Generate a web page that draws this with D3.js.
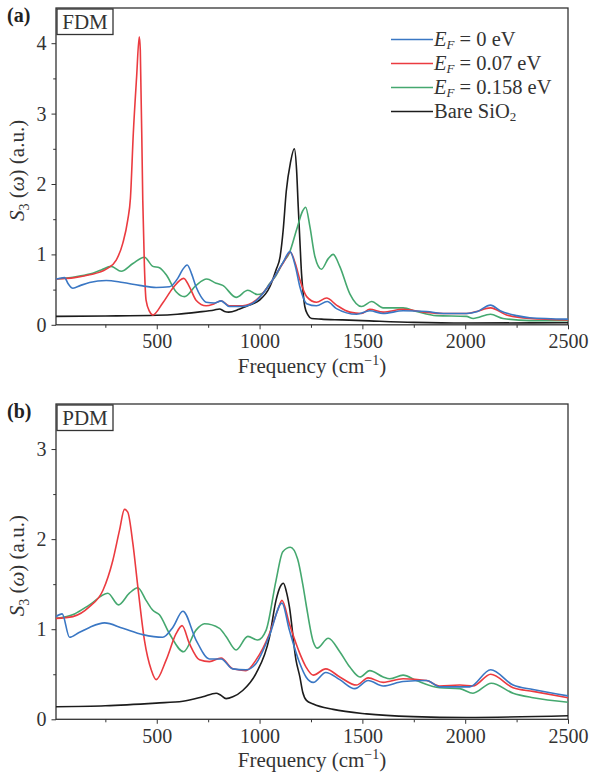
<!DOCTYPE html>
<html lang="en">
<head>
  <meta charset="UTF-8" />
  <title>S3 spectra</title>
  <script src="https://d3js.org/d3.v7.min.js"></script>
  <style>
    body { margin: 0; padding: 0; background: #fff; }
    svg { font-family: "Liberation Serif", "Times New Roman", serif; }
    .axis path, .axis line { stroke: #333; }
  </style>
</head>
<body>
  <svg width="590" height="776"></svg>

  <script>
    // frequency ticks (cm^-1)
    const xMajor = [500, 1000, 1500, 2000, 2500];
    const xMinor = [250, 750, 1250, 1750, 2250];

    const seriesNames = ["E_F = 0 eV", "E_F = 0.07 eV", "E_F = 0.158 eV", "Bare SiO2"];
    const seriesColors = ["#3a77c4", "#eb3b40", "#45a86f", "#1c1c1c"];

    // (a) FDM  -- [frequency, S3]
    const aBlue = [[10,0.65],[30,0.66],[51,0.67],[70,0.58],[92,0.52],[130,0.56],[173,0.60],[254,0.63],[335,0.60],[416,0.56],[497,0.53],[562,0.54],[602,0.66],[625,0.78],[648,0.85],[670,0.72],[691,0.54],[715,0.40],[740,0.32],[780,0.31],[813,0.34],[853,0.26],[918,0.26],[983,0.34],[1048,0.57],[1113,0.88],[1148,1.04],[1175,0.82],[1196,0.54],[1229,0.30],[1277,0.27],[1329,0.33],[1374,0.23],[1472,0.15],[1536,0.20],[1601,0.16],[1698,0.20],[1812,0.19],[1893,0.16],[2006,0.16],[2060,0.19],[2123,0.28],[2170,0.20],[2250,0.13],[2314,0.10],[2500,0.08]];
    const aRed = [[10,0.65],[100,0.67],[173,0.71],[254,0.79],[303,0.92],[335,1.16],[359,1.49],[372,1.80],[386,2.72],[402,3.52],[415,4.09],[420,3.90],[432,1.77],[440,0.83],[448,0.35],[465,0.19],[481,0.14],[529,0.31],[578,0.52],[631,0.66],[659,0.54],[691,0.35],[740,0.27],[780,0.30],[813,0.34],[853,0.27],[918,0.27],[983,0.35],[1048,0.57],[1113,0.87],[1150,1.03],[1175,0.86],[1196,0.64],[1229,0.40],[1277,0.32],[1326,0.38],[1374,0.28],[1439,0.18],[1496,0.16],[1536,0.22],[1601,0.18],[1698,0.22],[1796,0.18],[1893,0.16],[2006,0.16],[2055,0.19],[2123,0.24],[2201,0.14],[2314,0.09],[2500,0.07]];
    const aGreen = [[10,0.65],[100,0.68],[173,0.72],[230,0.78],[278,0.83],[327,0.76],[384,0.87],[440,0.96],[481,0.83],[513,0.81],[546,0.71],[594,0.47],[635,0.40],[691,0.56],[743,0.65],[789,0.59],[821,0.56],[886,0.39],[943,0.49],[990,0.43],[1015,0.45],[1050,0.59],[1080,0.70],[1113,0.88],[1145,1.02],[1180,1.35],[1210,1.62],[1224,1.67],[1245,1.39],[1269,0.97],[1301,0.79],[1334,0.94],[1358,1.00],[1390,0.83],[1439,0.44],[1496,0.26],[1545,0.33],[1601,0.24],[1698,0.24],[1763,0.19],[1861,0.13],[2006,0.12],[2039,0.09],[2123,0.15],[2184,0.09],[2314,0.06],[2500,0.06]];
    const aBlack = [[10,0.12],[250,0.125],[500,0.135],[600,0.15],[700,0.18],[780,0.21],[805,0.225],[830,0.19],[850,0.18],[900,0.22],[950,0.28],[1000,0.35],[1050,0.54],[1080,0.78],[1100,0.97],[1115,1.35],[1130,1.90],[1150,2.30],[1169,2.50],[1180,2.20],[1188,1.68],[1196,1.20],[1204,0.73],[1212,0.45],[1220,0.26],[1235,0.14],[1253,0.09],[1300,0.08],[1400,0.07],[1500,0.06],[1750,0.035],[2000,0.025],[2500,0.03]];

    // (b) PDM
    const bBlue = [[10,1.14],[40,1.17],[76,0.91],[120,0.96],[173,1.02],[246,1.07],[335,1.01],[432,0.94],[529,0.91],[578,1.02],[627,1.20],[691,0.88],[756,0.67],[813,0.67],[870,0.56],[934,0.55],[983,0.62],[1048,0.93],[1109,1.29],[1145,0.99],[1194,0.63],[1226,0.47],[1261,0.41],[1322,0.52],[1390,0.44],[1463,0.34],[1528,0.43],[1601,0.37],[1698,0.42],[1812,0.43],[1876,0.36],[2022,0.36],[2124,0.55],[2233,0.38],[2330,0.33],[2500,0.26]];
    const bRed = [[10,1.12],[92,1.14],[173,1.25],[238,1.43],[286,1.76],[319,2.10],[343,2.33],[359,2.30],[384,1.95],[408,1.47],[440,0.88],[473,0.55],[497,0.44],[546,0.66],[594,0.95],[623,1.04],[659,0.84],[708,0.66],[756,0.64],[813,0.68],[870,0.56],[934,0.54],[983,0.66],[1048,0.95],[1088,1.21],[1109,1.32],[1145,1.06],[1194,0.74],[1226,0.58],[1261,0.49],[1322,0.56],[1390,0.47],[1471,0.38],[1528,0.46],[1601,0.41],[1698,0.45],[1812,0.43],[1876,0.37],[1974,0.38],[2038,0.37],[2124,0.50],[2233,0.35],[2330,0.31],[2500,0.24]];
    const bGreen = [[10,1.12],[100,1.17],[173,1.27],[262,1.40],[314,1.27],[367,1.40],[408,1.46],[448,1.32],[481,1.21],[513,1.16],[562,0.95],[631,0.75],[691,0.99],[732,1.06],[805,1.01],[837,0.92],[886,0.77],[943,0.92],[991,0.88],[1032,0.99],[1080,1.54],[1113,1.86],[1150,1.91],[1185,1.78],[1210,1.50],[1226,1.28],[1261,0.86],[1280,0.79],[1334,0.90],[1390,0.75],[1439,0.58],[1488,0.47],[1536,0.54],[1601,0.47],[1633,0.45],[1698,0.49],[1763,0.43],[1876,0.35],[1974,0.34],[2038,0.29],[2127,0.40],[2233,0.29],[2330,0.24],[2500,0.19]];
    const bBlack = [[10,0.14],[250,0.15],[497,0.18],[627,0.20],[724,0.25],[789,0.29],[810,0.27],[837,0.23],[870,0.25],[918,0.32],[983,0.51],[1048,0.91],[1080,1.32],[1100,1.47],[1116,1.51],[1130,1.42],[1145,1.25],[1177,0.66],[1196,0.47],[1210,0.30],[1228,0.21],[1261,0.17],[1358,0.11],[1520,0.06],[1747,0.03],[2006,0.02],[2500,0.04]];

    const svg = d3.select("svg");
    const left = 56, right = 568;
    const serif = "'Liberation Serif', 'Times New Roman', serif";

    const x = d3.scaleLinear().domain([10, 2500]).range([left, right]);

    function drawPanel(opt) {
      const y = d3.scaleLinear().domain([0, opt.yMax]).range([opt.bottom, opt.top]);
      const g = svg.append("g");

      const line = d3.line()
        .x(d => x(d[0]))
        .y(d => y(d[1]))
        .curve(d3.curveMonotoneX);

      // frame
      g.append("rect")
        .attr("x", left).attr("y", opt.top)
        .attr("width", right - left).attr("height", opt.bottom - opt.top)
        .attr("fill", "none").attr("stroke", "#333").attr("stroke-width", 1.3);

      // curves, black drawn first so colours sit on top
      [3, 2, 1, 0].forEach(i => {
        g.append("path")
          .datum(opt.series[i])
          .attr("fill", "none")
          .attr("stroke", seriesColors[i])
          .attr("stroke-width", 1.6)
          .attr("d", line);
      });

      // axes
      const styleAxis = a => {
        a.attr("font-family", serif).attr("font-size", 20);
        a.select(".domain").remove();
        a.selectAll("text").attr("fill", "#333");
      };

      g.append("g").attr("class", "axis")
        .attr("transform", `translate(0,${opt.bottom})`)
        .call(d3.axisBottom(x).tickValues(xMajor).tickFormat(d3.format("d")).tickSize(4.5).tickPadding(5))
        .call(styleAxis);

      g.append("g").attr("class", "axis")
        .attr("transform", `translate(0,${opt.bottom})`)
        .call(d3.axisBottom(x).tickValues(xMinor).tickSize(3).tickFormat(""))
        .call(styleAxis);

      g.append("g").attr("class", "axis")
        .attr("transform", `translate(${left},0)`)
        .call(d3.axisLeft(y).tickValues(opt.yMajor).tickFormat(d3.format("d")).tickSize(4.5).tickPadding(5))
        .call(styleAxis);

      g.append("g").attr("class", "axis")
        .attr("transform", `translate(${left},0)`)
        .call(d3.axisLeft(y).tickValues(opt.yMinor).tickSize(2.8).tickFormat(""))
        .call(styleAxis);

      // x title
      const xt = g.append("text")
        .attr("x", (left + right) / 2)
        .attr("y", opt.bottom + 48)
        .attr("text-anchor", "middle")
        .attr("font-size", 21)
        .attr("fill", "#333");
      xt.append("tspan").text("Frequency (cm");
      xt.append("tspan").attr("font-size", 14).attr("dy", -8).text("\u22121");
      xt.append("tspan").attr("dy", 8).text(")");

      // y title
      const yt = g.append("text")
        .attr("transform", `translate(24,${(opt.top + opt.bottom) / 2 + 4}) rotate(-90)`)
        .attr("text-anchor", "middle")
        .attr("font-size", 21)
        .attr("fill", "#333");
      yt.append("tspan").attr("font-style", "italic").text("S");
      yt.append("tspan").attr("font-size", 14).attr("dy", 5).text("3");
      yt.append("tspan").attr("dy", -5).text(" (");
      yt.append("tspan").attr("font-style", "italic").text("\u03c9");
      yt.append("tspan").text(") (a.u.)");

      // panel letter
      g.append("text")
        .attr("x", 7).attr("y", opt.top + 14)
        .attr("font-size", 20).attr("font-weight", "bold")
        .attr("fill", "#222")
        .text(opt.tag);

      // method box
      g.append("rect")
        .attr("x", 57).attr("y", opt.top + 1)
        .attr("width", 56).attr("height", 25.5)
        .attr("fill", "#fff").attr("stroke", "#333").attr("stroke-width", 1.3);
      g.append("text")
        .attr("x", 85).attr("y", opt.top + 21)
        .attr("text-anchor", "middle")
        .attr("font-size", 21).attr("fill", "#333")
        .text(opt.label);

      return y;
    }

    drawPanel({
      top: 8, bottom: 324.8, yMax: 4.5,
      yMajor: [0, 1, 2, 3, 4], yMinor: [0.5, 1.5, 2.5, 3.5],
      series: [aBlue, aRed, aGreen, aBlack],
      tag: "(a)", label: "FDM"
    });

    drawPanel({
      top: 404, bottom: 719.3, yMax: 3.5,
      yMajor: [0, 1, 2, 3], yMinor: [0.5, 1.5, 2.5],
      series: [bBlue, bRed, bGreen, bBlack],
      tag: "(b)", label: "PDM"
    });

    // legend (panel a)
    const legend = svg.append("g");
    seriesNames.forEach((name, i) => {
      const ly = 39.5 + i * 24;
      legend.append("line")
        .attr("x1", 391).attr("x2", 433)
        .attr("y1", ly).attr("y2", ly)
        .attr("stroke", seriesColors[i]).attr("stroke-width", 1.6);
      const t = legend.append("text")
        .attr("x", 434).attr("y", ly + 6)
        .attr("font-size", 20.5).attr("fill", "#333");
      if (name.startsWith("E_F")) {
        t.append("tspan").attr("font-style", "italic").text("E");
        t.append("tspan").attr("font-style", "italic").attr("font-size", 13).attr("dy", 3.5).text("F");
        t.append("tspan").attr("dy", -3.5).text(name.slice(3));
      } else {
        t.append("tspan").text("Bare SiO");
        t.append("tspan").attr("font-size", 13).attr("dy", 3.5).text("2");
      }
    });
  </script>
</body>
</html>
